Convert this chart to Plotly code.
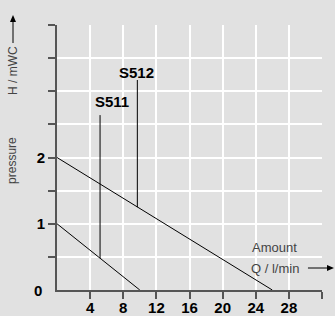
import plotly.graph_objects as go

# Data
s511_q = [0, 10]
s511_h = [1, 0]
s512_q = [0, 26]
s512_h = [2, 0]

labels = ["S511", "S512"]
label_q = [6.7, 9.6]
label_h = [2.84, 3.28]
leader_q = [5.2, 9.7]
leader_h0 = [0.48, 1.25]
leader_h1 = [2.64, 3.17]

x_tickvals = [4, 8, 12, 16, 20, 24, 28, 32]
x_ticktext = ["4", "8", "12", "16", "20", "24", "28", ""]
y_tickvals = [0.5, 1, 1.5, 2, 2.5, 3, 3.5, 4]
y_ticktext = ["", "1", "", "2", "", "", "", ""]

BG = "#e1e1e1"
AX = "#555555"
FONT = "Liberation Sans, Arial, sans-serif"

fig = go.Figure()
for q, h in [(s511_q, s511_h), (s512_q, s512_h)]:
    fig.add_trace(go.Scatter(x=q, y=h, mode="lines",
                             line=dict(color="black", width=1), hoverinfo="skip"))
for i in range(len(labels)):
    fig.add_trace(go.Scatter(x=[leader_q[i], leader_q[i]], y=[leader_h0[i], leader_h1[i]],
                             mode="lines", line=dict(color="black", width=1), hoverinfo="skip"))
    fig.add_annotation(x=label_q[i], y=label_h[i], text="<b>%s</b>" % labels[i],
                       showarrow=False, xanchor="center", yanchor="middle",
                       font=dict(family=FONT, size=15, color="black"))

# y "0" label
fig.add_annotation(x=0, y=0, xref="paper", yref="y", text="<b>0</b>", showarrow=False,
                   xanchor="right", yanchor="middle", xshift=-13,
                   font=dict(family=FONT, size=15, color="black"))

C = dict(xanchor="center", yanchor="middle", showarrow=False, xref="paper", yref="paper")
# Axis titles
fig.add_annotation(x=-0.170, y=0.4906, text="pressure", textangle=-90,
                   font=dict(family=FONT, size=12, color="#444"), **C)
fig.add_annotation(x=-0.166, y=0.8264, text="H / mWC", textangle=-90,
                   font=dict(family=FONT, size=12, color="#444"), **C)
fig.add_annotation(x=0.8226, y=0.1585, text="Amount",
                   font=dict(family=FONT, size=13, color="#444"), **C)
fig.add_annotation(x=0.8208, y=0.083, text="Q / l/min",
                   font=dict(family=FONT, size=13, color="#444"), **C)

# Axis direction arrows (paper coordinates)
fig.add_shape(type="line", xref="paper", yref="paper", x0=-0.166, x1=-0.166,
              y0=0.932, y1=1.02, line=dict(color="black", width=1))
fig.add_shape(type="path", xref="paper", yref="paper",
              path="M -0.1660 1.0377 L -0.1774 1.0113 L -0.1547 1.0113 Z",
              fillcolor="black", line=dict(color="black", width=0))
fig.add_shape(type="line", xref="paper", yref="paper", x0=0.947, x1=1.025,
              y0=0.083, y1=0.083, line=dict(color="black", width=1))
fig.add_shape(type="path", xref="paper", yref="paper",
              path="M 1.0453 0.0830 L 1.0189 0.0943 L 1.0189 0.0717 Z",
              fillcolor="black", line=dict(color="black", width=0))

fig.update_xaxes(range=[0, 32], tickvals=x_tickvals, ticktext=x_ticktext,
                 showgrid=True, gridcolor="white", gridwidth=2,
                 showline=True, linecolor=AX, linewidth=2,
                 ticks="outside", ticklen=7, tickwidth=2, tickcolor=AX,
                 ticklabelstandoff=-4,
                 tickfont=dict(family=FONT, size=15, color="black", weight="bold"),
                 zeroline=False, fixedrange=True, automargin=False)
fig.update_yaxes(range=[0, 4], tickvals=y_tickvals, ticktext=y_ticktext,
                 showgrid=True, gridcolor="white", gridwidth=2,
                 showline=True, linecolor=AX, linewidth=2,
                 ticks="outside", ticklen=7, tickwidth=1.5, tickcolor=AX,
                 tickfont=dict(family=FONT, size=15, color="black", weight="bold"),
                 zeroline=False, fixedrange=True, automargin=False)

fig.update_layout(width=335, height=316, margin=dict(l=57, r=13, t=25, b=26),
                  paper_bgcolor=BG, plot_bgcolor=BG, showlegend=False)
fig.write_html("out.html", config={"displayModeBar": False},
               post_script="document.body.style.margin='0';document.body.style.background='%s';" % BG)
